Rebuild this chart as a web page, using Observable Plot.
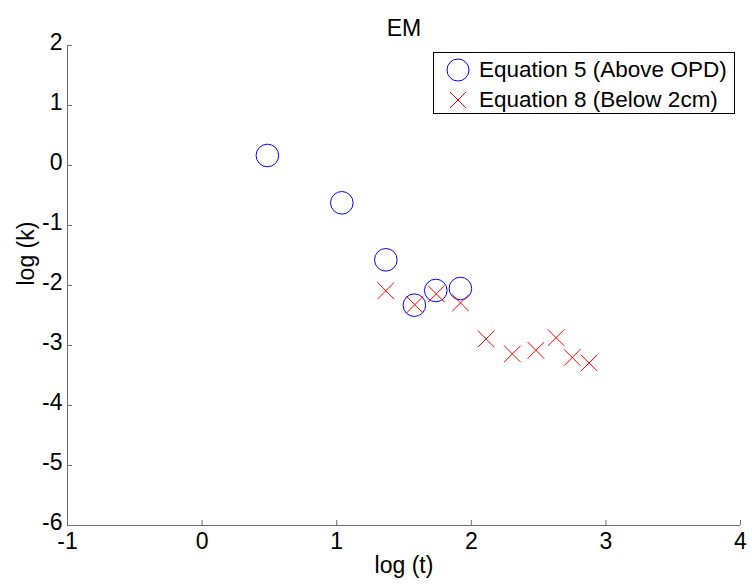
<!DOCTYPE html>
<html><head><meta charset="utf-8">
<script src="https://cdn.jsdelivr.net/npm/d3@7"></script>
<script src="https://cdn.jsdelivr.net/npm/@observablehq/plot@0.6"></script>
<style>
body{margin:0;background:#fff;}
#wrap{position:relative;width:752px;height:586px;font-family:"Liberation Sans",Arial,sans-serif;}
#legend{position:absolute;left:433px;top:52px;width:302px;height:62px;border:1px solid #000;background:#fff;box-sizing:border-box;font-size:22.5px;color:#000;}
.row{position:absolute;left:0;height:30px;display:flex;align-items:center;white-space:nowrap;}
.row svg{margin-left:11px;margin-right:8px;}
</style>
</head><body><div id="wrap"></div>
<script>
const titleText = "EM";
const xLabel = "log (t)";
const yLabel = "log (k)";
const xTicks = [-1, 0, 1, 2, 3, 4];
const yTicks = [-6, -5, -4, -3, -2, -1, 0, 1, 2];
const series1Name = "Equation 5 (Above OPD)";
const series2Name = "Equation 8 (Below 2cm)";
const eq5X = [0.485, 1.038, 1.365, 1.577, 1.736, 1.919];
const eq5Y = [0.167, -0.622, -1.572, -2.328, -2.083, -2.05];
const eq8X = [1.365, 1.58, 1.74, 1.92, 2.11, 2.305, 2.48, 2.63, 2.75, 2.875];
const eq8Y = [-2.088, -2.32, -2.14, -2.29, -2.89, -3.14, -3.08, -2.87, -3.2, -3.29];

const eq5 = eq5X.map((x, i) => ({x, y: eq5Y[i]}));
const eq8 = eq8X.map((x, i) => ({x, y: eq8Y[i]}));
const axisColor = "#6e6e6e";
const fs = 23;
const fmt = d => d < 0 ? "-" + Math.abs(d) : String(d);

const chart = Plot.plot({
  width: 752, height: 586,
  marginLeft: 67, marginRight: 12, marginTop: 45, marginBottom: 61,
  style: {fontFamily: "Liberation Sans, Arial, sans-serif", fontSize: fs + "px", color: "#000", background: "#fff"},
  x: {domain: [-1, 4]},
  y: {domain: [-6, 2]},
  marks: [
    Plot.ruleY([-6], {stroke: axisColor}),
    Plot.ruleX([-1], {stroke: axisColor}),
    Plot.axisX({ticks: xTicks, tickFormat: () => "", tickSize: -5, stroke: axisColor, label: null}),
    Plot.axisY({ticks: yTicks, tickFormat: () => "", tickSize: -5, stroke: axisColor, label: null}),
    Plot.text(xTicks, {x: d => d, text: fmt, frameAnchor: "bottom", lineAnchor: "top", dy: 7, fontSize: fs, fill: "#000"}),
    Plot.text(yTicks, {y: d => d, text: fmt, frameAnchor: "left", textAnchor: "end", dx: -5, dy: -3, fontSize: fs, fill: "#000"}),
    Plot.text([xLabel], {frameAnchor: "bottom", dy: 47, fontSize: fs, fill: "#000"}),
    Plot.text([yLabel], {frameAnchor: "left", dx: -41, rotate: -90, fontSize: fs, fill: "#000"}),
    Plot.dot(eq5, {x: "x", y: "y", r: 11.3, stroke: "#0000ff", strokeWidth: 1, symbol: "circle"}),
    Plot.dot(eq8, {x: "x", y: "y", r: 7.6, stroke: "#ff0000", strokeWidth: 1, symbol: "times"}),
    Plot.text([titleText], {frameAnchor: "top", dy: -26, fontSize: fs, fill: "#000"})
  ]
});
const wrap = document.getElementById("wrap");
wrap.appendChild(chart);

const legend = document.createElement("div");
legend.id = "legend";
legend.innerHTML = `
<div class="row" style="top:2px"><svg width="26" height="26"><circle cx="13" cy="13" r="11" fill="none" stroke="#0000ff" stroke-width="1"/></svg>${series1Name}</div>
<div class="row" style="top:32px"><svg width="26" height="26"><path d="M5,5L21,21M21,5L5,21" stroke="#ff0000" stroke-width="1"/></svg>${series2Name}</div>`;
wrap.appendChild(legend);
</script>
</body></html>
